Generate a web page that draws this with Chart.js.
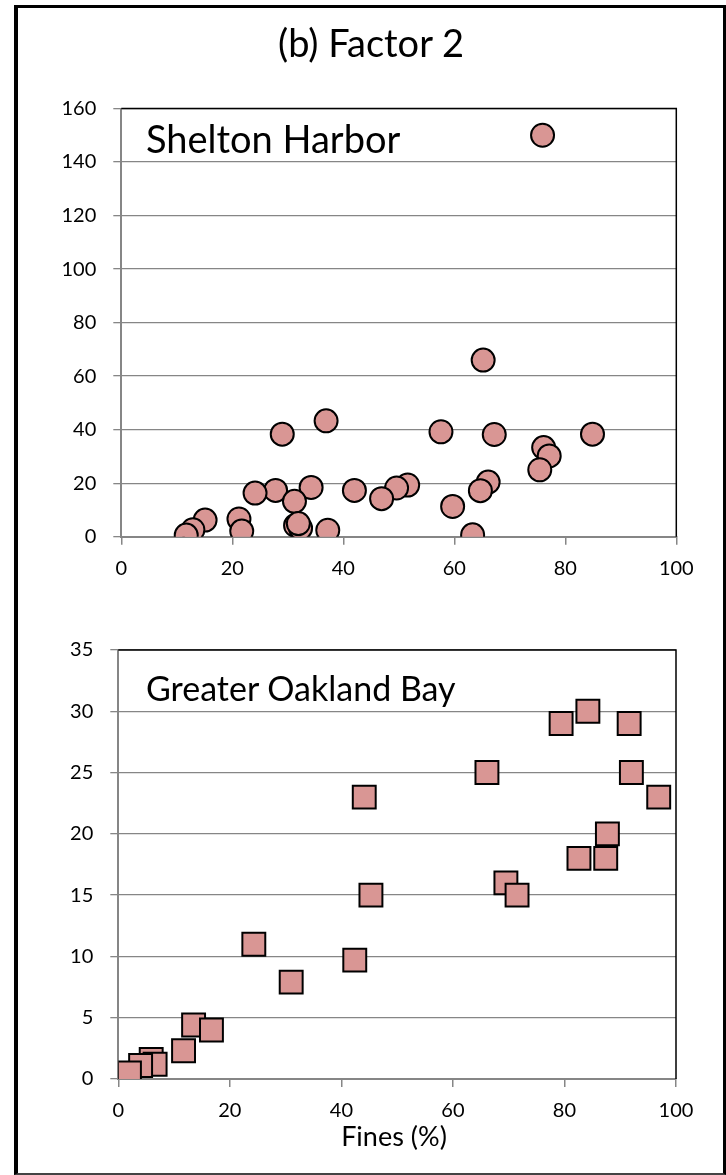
<!DOCTYPE html>
<html>
<head>
<meta charset="utf-8">
<script src="https://cdn.jsdelivr.net/npm/chart.js@4.4.0/dist/chart.umd.min.js"></script>
<style>
  html, body { margin: 0; padding: 0; background: #fff; }
  #page { position: relative; width: 726px; height: 1175px; overflow: hidden; font-family: Lato, "Noto Sans", sans-serif; }
  .frame { position: absolute; left: 14px; top: 5px; width: 712px; height: 1170px; box-sizing: border-box;
           border-left: 4px solid #000; border-top: 3px solid #000; border-right: 3px solid #000; border-bottom: 2px solid #444; }
  .box { position: absolute; left: 0; width: 726px; }
  .txt { position: absolute; line-height: 1; white-space: nowrap; color: #000; }
</style>
</head>
<body>
<div id="page">
  <div class="frame"></div>
  <div class="box" style="top:0;height:600px"><canvas id="chartShelton"></canvas></div>
  <div class="box" style="top:600px;height:575px"><canvas id="chartOakland"></canvas></div>
  <div class="txt" style="left:221px;width:300px;text-align:center;top:23px;font-size:38px;">(b) Factor 2</div>
  <div class="txt" style="left:146px;top:119px;font-size:38px;">Shelton Harbor</div>
  <div class="txt" style="left:146px;top:671px;font-size:34px;">Greater Oakland Bay</div>
  <div class="txt" style="left:244px;width:300px;text-align:center;top:1122px;font-size:27px;">Fines (%)</div>
</div>
<script>
// Shelton Harbor: fines (%) vs factor 2 contribution
const sheltonFines = [75.9, 65.2, 36.9, 29.0, 57.6, 67.2, 84.9, 76.1, 77.1, 75.4, 66.1, 64.7, 51.6, 49.6, 46.9, 42.0,
                      34.2, 27.8, 24.1, 31.2, 59.7, 15.1, 21.2, 21.7, 12.9, 11.7, 31.4, 32.3, 31.9, 37.2, 63.3];
const sheltonF2    = [150, 66.0, 43.3, 38.3, 39.2, 38.2, 38.3, 33.3, 30.2, 25.0, 20.4, 17.2, 19.3, 18.2, 14.2, 17.3,
                      18.4, 17.3, 16.3, 13.2, 11.3, 6.2, 6.6, 2.1, 2.6, 0.6, 4.2, 3.2, 4.9, 2.4, 0.7];

// Greater Oakland Bay: fines (%) vs factor 2 contribution
const oaklandFines = [79.4, 84.2, 91.6, 66.1, 92.0, 96.9, 44.1, 87.7, 82.6, 87.4, 69.5, 71.5, 45.3,
                      24.3, 42.4, 31.0, 13.5, 16.7, 11.7, 5.9, 6.6, 4.0, 2.0];
const oaklandF2    = [29.0, 30.0, 29.0, 25.0, 25.0, 23.0, 23.0, 20.0, 18.0, 18.0, 16.0, 15.0, 15.0,
                      11.0, 9.7, 7.9, 4.4, 4.0, 2.3, 1.6, 1.2, 1.1, 0.5];

const xTicks = [0, 20, 40, 60, 80, 100];
const sheltonYTicks = [0, 20, 40, 60, 80, 100, 120, 140, 160];
const oaklandYTicks = [0, 5, 10, 15, 20, 25, 30, 35];

const MARKER_FILL = '#D99694';
const AXIS_GREY = '#868686';
const FONT = { family: 'Lato, "Noto Sans", sans-serif', size: 20 };

// black top and right edges of the plot area
const plotFrame = {
  id: 'plotFrame',
  beforeDatasetsDraw(chart) {
    const { ctx, chartArea: a } = chart;
    ctx.save();
    ctx.strokeStyle = '#000';
    ctx.lineWidth = 1.5;
    ctx.beginPath();
    ctx.moveTo(a.left, a.top);
    ctx.lineTo(a.right, a.top);
    ctx.lineTo(a.right, a.bottom);
    ctx.stroke();
    ctx.restore();
  }
};

function toPoints(xs, ys) {
  return xs.map((x, i) => ({ x, y: ys[i] }));
}

function buildScatter(id, cfg) {
  const yTicks = cfg.yTicks;
  return new Chart(document.getElementById(id), {
    type: 'scatter',
    data: {
      datasets: [{
        data: toPoints(cfg.xs, cfg.ys),
        pointStyle: cfg.pointStyle,
        pointRadius: cfg.radius,
        pointHoverRadius: cfg.radius,
        backgroundColor: MARKER_FILL,
        borderColor: '#000',
        borderWidth: 2
      }]
    },
    options: {
      responsive: true,
      maintainAspectRatio: false,
      devicePixelRatio: 1,
      animation: false,
      events: [],
      layout: { padding: { top: cfg.padTop, left: 0, right: cfg.padRight, bottom: 0 } },
      plugins: { legend: { display: false }, tooltip: { enabled: false } },
      scales: {
        x: {
          type: 'linear',
          min: xTicks[0],
          max: xTicks[xTicks.length - 1],
          afterBuildTicks: s => { s.ticks = xTicks.map(v => ({ value: v })); },
          afterFit: s => { s.height = cfg.xHeight; },
          ticks: { font: FONT, color: '#000', padding: 12, maxRotation: 0 },
          grid: { display: true, drawOnChartArea: false, drawTicks: true, tickLength: 8, color: AXIS_GREY, lineWidth: 1.5 },
          border: { display: true, color: AXIS_GREY, width: 2 }
        },
        y: {
          type: 'linear',
          min: yTicks[0],
          max: yTicks[yTicks.length - 1],
          afterBuildTicks: s => { s.ticks = yTicks.map(v => ({ value: v })); },
          afterFit: s => { s.width = cfg.yWidth; },
          ticks: { font: FONT, color: '#000', padding: 17 },
          grid: { color: AXIS_GREY, lineWidth: 1.3, tickLength: 8 },
          border: { display: true, color: AXIS_GREY, width: 2 }
        }
      }
    },
    plugins: [plotFrame]
  });
}

buildScatter('chartShelton', {
  xs: sheltonFines, ys: sheltonF2, yTicks: sheltonYTicks,
  pointStyle: 'circle', radius: 11.5,
  padTop: 108.5, padRight: 49.7, yWidth: 121.3, xHeight: 600 - 536.7
});

buildScatter('chartOakland', {
  xs: oaklandFines, ys: oaklandF2, yTicks: oaklandYTicks,
  pointStyle: 'rect', radius: 16.2,
  padTop: 50, padRight: 50, yWidth: 118.3, xHeight: 575 - 479
});
</script>
</body>
</html>
